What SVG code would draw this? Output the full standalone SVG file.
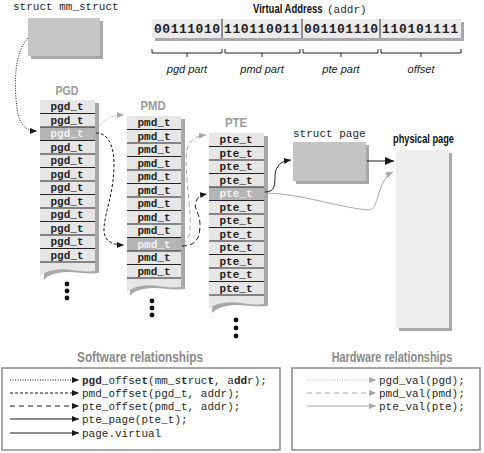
<svg xmlns="http://www.w3.org/2000/svg" width="484" height="453" viewBox="0 0 484 453">
<style>
.mono{font-family:"Liberation Mono","DejaVu Sans Mono",monospace;font-size:11px;fill:#2a2a2a}
.cell{font-family:"Liberation Mono","DejaVu Sans Mono",monospace;font-size:11px;font-weight:bold;fill:#222;text-anchor:middle}
.hi{fill:#f2f2f2}
.bits{font-family:"Liberation Mono","DejaVu Sans Mono",monospace;font-size:13px;font-weight:bold;fill:#222}
.ttl{font-family:"Liberation Sans",Arial,sans-serif;font-weight:bold}
.it{font-family:"Liberation Sans",Arial,sans-serif;font-style:italic;font-size:11px;fill:#222;text-anchor:middle}
.gtitle{fill:#9a9a9a;font-size:13px;text-anchor:middle}
.shadow{fill:#a8a8a8}
.colfill{fill:#e6e6e6}
.sep{stroke:#222;stroke-width:1}
.br{fill:none;stroke:#222;stroke-width:1}
.sw{fill:none;stroke:#1a1a1a;stroke-width:1}
.hw{fill:none;stroke:#a8a8a8;stroke-width:1}
</style>
<defs>
<marker id="ab" markerUnits="userSpaceOnUse" markerWidth="8" markerHeight="7" refX="7" refY="3" orient="auto"><path d="M0,0 L7,3 L0,6 z" fill="#1a1a1a"/></marker>
<marker id="abl" markerUnits="userSpaceOnUse" markerWidth="10" markerHeight="9" refX="9" refY="4" orient="auto"><path d="M0,0 L9,4 L0,8 z" fill="#1a1a1a"/></marker>
<marker id="ag" markerUnits="userSpaceOnUse" markerWidth="8" markerHeight="7" refX="7" refY="3" orient="auto"><path d="M0,0 L7,3 L0,6 z" fill="#a8a8a8"/></marker>
</defs>

<rect width="484" height="453" fill="#ffffff"/>

<g id="mm_struct">
<text class="mono" x="13" y="10">struct mm_struct</text>
<rect class="shadow" x="31" y="21" width="72" height="38"/>
<rect x="28" y="18" width="72" height="38" fill="#c6c6c6"/>
</g>

<g id="virtual_address">
<text class="ttl" transform="translate(253,13) scale(0.79,1)" font-size="12" fill="#111">Virtual Address</text>
<text class="mono" x="327" y="13" fill="#444">(addr)</text>
<rect class="shadow" x="155" y="22" width="309" height="19"/>
<rect x="152" y="19" width="309" height="19" fill="#ebebeb"/>
<path d="M222,19 V38 M302,19 V38 M380,19 V38" stroke="#333" stroke-width="1"/>
<text class="bits" x="154" y="33" textLength="66">00111010</text>
<text class="bits" x="224" y="33" textLength="75">110110011</text>
<text class="bits" x="304" y="33" textLength="74">001101110</text>
<text class="bits" x="382" y="33" textLength="76">110101111</text>
<path class="br" d="M152,49 V53 H222 V49 M187,53 V57 M225,49 V53 H300 V49 M262,53 V57 M303,49 V53 H378 V49 M341,53 V57 M381,49 V53 H461 V49 M421,53 V57"/>
<text class="it" x="187" y="73">pgd part</text>
<text class="it" x="262" y="73">pmd part</text>
<text class="it" x="341" y="73">pte part</text>
<text class="it" x="421" y="73">offset</text>
</g>

<g id="pgd">
<text class="ttl gtitle" transform="translate(67,95) scale(0.82,1)">PGD</text>
<path class="shadow" d="M44,103 H99 V273 C84,275 72,270 58,273 C52,274 47,276 44,280 Z"/>
<path class="colfill" d="M40,100 H95 V271 C80,273 68,267 54,270 C48,271 43,273 40,277 Z"/>
<rect x="40" y="127" width="55" height="13.5" fill="#b5b5b5"/>
<path class="sep" d="M40,113.5 H95 M40,127 H95 M40,140.5 H95 M40,154 H95 M40,167.5 H95 M40,181 H95 M40,194.5 H95 M40,208 H95 M40,221.5 H95 M40,235 H95 M40,248.5 H95 M40,262 H95"/>
<text class="cell" x="67" y="110">pgd_t</text>
<text class="cell" x="67" y="123.5">pgd_t</text>
<text class="cell hi" x="67" y="137">pgd_t</text>
<text class="cell" x="67" y="150.5">pgd_t</text>
<text class="cell" x="67" y="164">pgd_t</text>
<text class="cell" x="67" y="177.5">pgd_t</text>
<text class="cell" x="67" y="191">pgd_t</text>
<text class="cell" x="67" y="204.5">pgd_t</text>
<text class="cell" x="67" y="218">pgd_t</text>
<text class="cell" x="67" y="231.5">pgd_t</text>
<text class="cell" x="67" y="245">pgd_t</text>
<text class="cell" x="67" y="258.5">pgd_t</text>
<circle cx="67" cy="284" r="2.4" fill="#111"/>
<circle cx="67" cy="291" r="2.4" fill="#111"/>
<circle cx="67" cy="298" r="2.4" fill="#111"/>
</g>

<g id="pmd">
<text class="ttl gtitle" transform="translate(153,110) scale(0.87,1)">PMD</text>
<path class="shadow" d="M130,119 H185 V289 C170,291 158,286 144,289 C138,290 133,292 130,296 Z"/>
<path class="colfill" d="M127,116 H181 V287 C166,289 154,283 141,286 C135,287 130,289 127,293 Z"/>
<rect x="127" y="237.5" width="54" height="13.5" fill="#b5b5b5"/>
<path class="sep" d="M127,129.5 H181 M127,143 H181 M127,156.5 H181 M127,170 H181 M127,183.5 H181 M127,197 H181 M127,210.5 H181 M127,224 H181 M127,237.5 H181 M127,251 H181 M127,264.5 H181 M127,278 H181"/>
<text class="cell" x="154" y="126">pmd_t</text>
<text class="cell" x="154" y="139.5">pmd_t</text>
<text class="cell" x="154" y="153">pmd_t</text>
<text class="cell" x="154" y="166.5">pmd_t</text>
<text class="cell" x="154" y="180">pmd_t</text>
<text class="cell" x="154" y="193.5">pmd_t</text>
<text class="cell" x="154" y="207">pmd_t</text>
<text class="cell" x="154" y="220.5">pmd_t</text>
<text class="cell" x="154" y="234">pmd_t</text>
<text class="cell hi" x="154" y="247.5">pmd_t</text>
<text class="cell" x="154" y="261">pmd_t</text>
<text class="cell" x="154" y="274.5">pmd_t</text>
<circle cx="152" cy="301" r="2.4" fill="#111"/>
<circle cx="152" cy="308" r="2.4" fill="#111"/>
<circle cx="152" cy="315" r="2.4" fill="#111"/>
</g>

<g id="pte">
<text class="ttl gtitle" transform="translate(236,127) scale(0.87,1)">PTE</text>
<path class="shadow" d="M212,136 H268 V306 C253,308 241,303 227,306 C221,307 216,309 212,313 Z"/>
<path class="colfill" d="M209,133 H264 V304 C249,306 237,300 223,303 C217,304 212,306 209,310 Z"/>
<rect x="209" y="187" width="55" height="13.5" fill="#b5b5b5"/>
<path class="sep" d="M209,146.5 H264 M209,160 H264 M209,173.5 H264 M209,187 H264 M209,200.5 H264 M209,214 H264 M209,227.5 H264 M209,241 H264 M209,254.5 H264 M209,268 H264 M209,281.5 H264 M209,295 H264"/>
<text class="cell" x="236" y="143">pte_t</text>
<text class="cell" x="236" y="156.5">pte_t</text>
<text class="cell" x="236" y="170">pte_t</text>
<text class="cell" x="236" y="183.5">pte_t</text>
<text class="cell hi" x="236" y="197">pte_t</text>
<text class="cell" x="236" y="210.5">pte_t</text>
<text class="cell" x="236" y="224">pte_t</text>
<text class="cell" x="236" y="237.5">pte_t</text>
<text class="cell" x="236" y="251">pte_t</text>
<text class="cell" x="236" y="264.5">pte_t</text>
<text class="cell" x="236" y="278">pte_t</text>
<text class="cell" x="236" y="291.5">pte_t</text>
<circle cx="236" cy="320" r="2.4" fill="#111"/>
<circle cx="236" cy="328" r="2.4" fill="#111"/>
<circle cx="236" cy="336" r="2.4" fill="#111"/>
</g>

<g id="struct_page">
<text class="mono" x="293" y="137">struct page</text>
<rect class="shadow" x="296" y="145" width="73" height="39"/>
<rect x="293" y="142" width="73" height="39" fill="#c4c4c4"/>
</g>

<g id="physical_page">
<text class="ttl" transform="translate(393,143) scale(0.77,1)" font-size="12" fill="#111">physical page</text>
<rect class="shadow" x="399" y="153" width="53" height="178"/>
<rect x="396" y="150" width="53" height="178" fill="#efefef"/>
</g>

<g id="connectors">
<path class="sw" d="M28,38 C14,52 14,85 17,108 C19,124 25,131 37,131" stroke-dasharray="1,1.5" marker-end="url(#ab)"/>
<path class="sw" d="M96,133 C108,133 114,145 114,165 C114,192 105,212 104,228 C103,241 112,245 124,245" stroke-dasharray="3,2" marker-end="url(#ab)"/>
<path class="hw" d="M96,131 C101,122 108,115 124,115" stroke-dasharray="1,1.5" marker-end="url(#ag)"/>
<path class="hw" d="M182,243 C190,241 191,230 190,215 C189,195 184,165 187,150 C189,140 196,136 206,135" stroke-dasharray="5,3" marker-end="url(#ag)"/>
<path class="sw" d="M182,246 C196,246 200,238 200,225 C200,212 193,209 196,202 C198,196 201,195 207,194" stroke-dasharray="5,3" marker-end="url(#ab)"/>
<path class="hw" d="M264,193 C300,193 335,207 368,210 C380,211 376,180 393,172" marker-end="url(#ag)"/>
<path class="sw" d="M265,192 C280,192 272,175 277,168 C280,162 284,161 291,160" marker-end="url(#ab)"/>
<path class="sw" d="M367,161 H394" stroke-width="1.8" marker-end="url(#abl)"/>
</g>

<g id="software_legend">
<text class="ttl" transform="translate(140,362) scale(0.84,1)" font-size="14" fill="#8a8a8a" text-anchor="middle">Software relationships</text>
<rect x="2" y="368" width="278" height="82" fill="#ffffff" stroke="#8a8a8a" stroke-width="1.5"/>
<path class="sw" d="M10,380 H79" stroke-dasharray="1,1.5" marker-end="url(#ab)"/>
<path class="sw" d="M10,393 H79" stroke-dasharray="3,2" marker-end="url(#ab)"/>
<path class="sw" d="M10,406 H79" stroke-dasharray="5,4" marker-end="url(#ab)"/>
<path class="sw" d="M10,419 H79" marker-end="url(#ab)"/>
<path class="sw" d="M10,433 H79" stroke-width="1.6" marker-end="url(#ab)"/>
<text class="mono" x="82" y="384"><tspan font-weight="bold">pgd</tspan>_offse<tspan font-weight="bold">t</tspan>(mm_s<tspan font-weight="bold">t</tspan>ruc<tspan font-weight="bold">t</tspan>, a<tspan font-weight="bold">dd</tspan>r);</text>
<text class="mono" x="82" y="397">pmd_offset(pgd_t, addr);</text>
<text class="mono" x="82" y="410">pte_offset(pmd_t, addr);</text>
<text class="mono" x="82" y="423">pte_page(pte_t);</text>
<text class="mono" x="82" y="437">page.virtual</text>
</g>

<g id="hardware_legend">
<text class="ttl" transform="translate(392,362) scale(0.78,1)" font-size="14" fill="#8a8a8a" text-anchor="middle">Hardware relationships</text>
<rect x="292" y="368" width="188" height="82" fill="#ffffff" stroke="#8a8a8a" stroke-width="1.5"/>
<path class="hw" d="M307,380 H376" stroke-dasharray="1,1.5" marker-end="url(#ag)"/>
<path class="hw" d="M307,393 H376" stroke-dasharray="5,4" marker-end="url(#ag)"/>
<path class="hw" d="M307,406 H376" marker-end="url(#ag)"/>
<text class="mono" x="379" y="384">pgd_val(pgd);</text>
<text class="mono" x="379" y="397">pmd_val(pmd);</text>
<text class="mono" x="379" y="410">pte_val(pte);</text>
</g>
</svg>
